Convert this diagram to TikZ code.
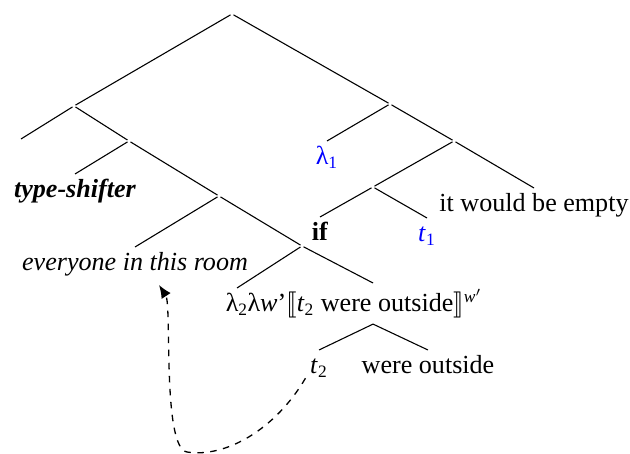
\documentclass[tikz,border=0pt]{standalone}
\usepackage{fontspec}
\setmainfont{LiberationSerif}[Extension=.ttf, UprightFont=*-Regular, BoldFont=*-Bold, ItalicFont=*-Italic, BoldItalicFont=*-BoldItalic]
\usepackage{stmaryrd}
\usepackage{tikz}
\usetikzlibrary{arrows.meta}
\definecolor{lamblue}{RGB}{0,0,255}
\tikzset{
  inner/.style={inner sep=0pt, minimum height=3pt},
  leaf/.style={anchor=north, inner sep=2pt, text height=8.6pt, text depth=0pt},
  edge/.style={line width=0.5pt, color=black},
  move/.style={dashed, line width=0.6pt, -{Latex[length=6pt,width=5pt]}}
}

\begin{document}
\begin{tikzpicture}[x=0.46pt, y=-0.46pt, font=\fontsize{12pt}{14pt}\selectfont]
  \useasboundingbox (0,0) rectangle (630,454);

  % Inner nodes
  \node[inner] (root) at (232,14) {};
  \node[inner] (lA) at (74,106) {};
  \node[inner] (lB) at (129,141) {};
  \node[inner] (lC) at (219,196) {};
  \node[inner] (lD) at (302,246) {};
  \node[inner] (rA) at (390,104) {};
  \node[inner] (rB) at (454,141) {};
  \node[inner] (rC) at (373,187) {};

  % Leaves
  \coordinate (blank) at (21,139);
  \node[leaf] (shift) at (75,174) {\textbf{\textit{type-shifter}}};
  \node[leaf] (every) at (135,247) {\textit{everyone in this room}};
  \node[leaf] (lamtwo) at (237,288) {λ\textsubscript{2}};
  \node[leaf, text height=11pt, text depth=3.5pt] (lamw) at (365,283)
    {λ\textit{w}’$\llbracket$\textit{t}\textsubscript{2} were outside$\rrbracket$\textsuperscript{\textit{w}$'$}};
  \node[leaf] (ttwo) at (319,350) {\textit{t}\textsubscript{2}};
  \node[leaf] (outside) at (428,350) {were outside};
  \node[leaf, text=lamblue] (lamone) at (327,141) {λ\textsubscript{1}};
  \node[leaf] (empty) at (534,188) {it would be empty};
  \node[leaf] (cond) at (320,217) {\textbf{if}};
  \node[leaf, text=lamblue] (tone) at (427,218) {\textit{t}\textsubscript{1}};

  % Branches
  \draw[edge] (root) -- (lA);
  \draw[edge] (root) -- (rA);
  \draw[edge] (lA) -- (blank);
  \draw[edge] (lA) -- (lB);
  \draw[edge] (lB) -- (shift.north);
  \draw[edge] (lB) -- (lC);
  \draw[edge] (lC) -- (every.north);
  \draw[edge] (lC) -- (lD);
  \draw[edge] (lD) -- (lamtwo.north);
  \draw[edge] (lD) -- ([xshift=3.7pt]lamw.north);
  \draw[edge] ([xshift=3.7pt]lamw.south) -- (ttwo.north);
  \draw[edge] ([xshift=3.7pt]lamw.south) -- (outside.north);
  \draw[edge] (rA) -- (lamone.north);
  \draw[edge] (rA) -- (rB);
  \draw[edge] (rB) -- (rC);
  \draw[edge] (rB) -- (empty.north);
  \draw[edge] (rC) -- (cond.north);
  \draw[edge] (rC) -- (tone.north);

  % Movement arrow
  \coordinate (landing) at (159,285);
  \draw[move] (ttwo.south west) .. controls (275,430) and (225,458) .. (187,452)
    .. controls (162,448) and (172,305) .. (landing);
\end{tikzpicture}
\end{document}
